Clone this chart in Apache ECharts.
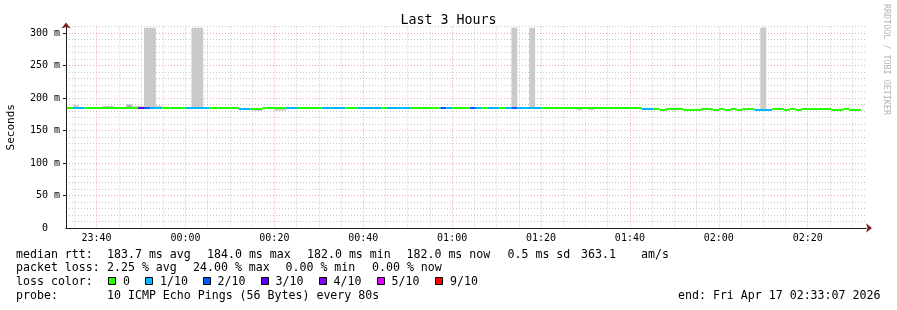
<!DOCTYPE html>
<html><head><meta charset="utf-8">
<script src="https://cdn.jsdelivr.net/npm/echarts@6/dist/echarts.min.js"></script>
<style>html,body{margin:0;padding:0;background:#fff}#c{width:897px;height:310px}</style>
</head><body><div id="c"></div>
<script>
// time axis: seconds since 23:00:00 of the first day
const T_START = 1987;    // 23:33:07
const T_END = 12787;     // 02:33:07
const STEP_BASE = 2000;  // first 80 s step boundary
const STEP = 80;

const xMajorTicks = [2400, 3600, 4800, 6000, 7200, 8400, 9600, 10800, 12000];
const xMajorLabels = ['23:40', '00:00', '00:20', '00:40', '01:00', '01:20', '01:40', '02:00', '02:20'];
const yMajorTicks = [0, 50, 100, 150, 200, 250, 300];
const yMajorLabels = ['0  ', '50 m', '100 m', '150 m', '200 m', '250 m', '300 m'];

// median rtt segments (step indices), loss (pings of 10), median (ms)
const segFrom   = [0, 1, 3, 12, 13, 14, 16, 20, 24, 29, 31, 33, 37, 39, 43, 47, 49, 53, 54, 58, 63, 64, 65, 68, 69, 70, 71, 73, 74, 75, 76, 80, 97, 99, 100, 101, 104, 107, 109, 110, 111, 112, 113, 114, 116, 119, 121, 122, 123, 124, 129, 131, 132];
const segTo     = [1, 3, 12, 13, 14, 16, 20, 24, 29, 31, 33, 37, 39, 43, 47, 49, 53, 54, 58, 63, 64, 65, 68, 69, 70, 71, 73, 74, 75, 76, 80, 97, 99, 100, 101, 104, 107, 109, 110, 111, 112, 113, 114, 116, 119, 121, 122, 123, 124, 129, 131, 132, 134];
const segLoss   = [0, 1, 0, 3, 2, 1, 0, 1, 0, 1, 0, 0, 1, 0, 1, 0, 1, 0, 1, 0, 2, 1, 0, 2, 1, 0, 1, 0, 1, 2, 1, 0, 1, 0, 0, 0, 0, 0, 0, 0, 0, 0, 0, 0, 1, 0, 0, 0, 0, 0, 0, 0, 0];
const segMedian = [184, 184, 184, 184, 184, 184, 184, 184, 184, 182.5, 183, 184, 184, 184, 184, 184, 184, 184, 184, 184, 184, 184, 184, 184, 184, 184, 184, 184, 184, 184, 184, 184, 183.5, 183.5, 182, 183.5, 182, 183.5, 182, 183.5, 182, 183.5, 182, 183, 182, 183, 182, 183, 182, 183, 182, 183, 182];

// smoke (ping spread) blocks
const smokeFrom  = [1, 6, 10, 11, 13, 15, 16, 21, 31, 35, 75, 78, 86, 88, 98, 102, 107, 112, 117];
const smokeTo    = [2, 8, 11, 13, 15, 16, 17, 23, 33, 37, 76, 79, 87, 89, 99, 103, 108, 113, 118];
const smokeLo    = [184, 184, 184, 184, 183, 184, 184, 183, 180.5, 180.5, 183, 183, 181, 181, 181, 181, 181, 181, 182];
const smokeHi    = [189, 188, 190, 187.5, 308, 188.5, 186.5, 308, 183, 183, 308, 308, 183, 183, 183, 183, 183, 183, 308];
const smokeShade = [0, 0, 1, 0, 0, 0, 1, 0, 0, 0, 0, 0, 0, 0, 0, 0, 0, 0, 0];

const lossColors = {0: '#26ff00', 1: '#00b8ff', 2: '#0059ff', 3: '#5e00ff', 4: '#7e00ff', 5: '#dd00ff', 9: '#ff0000'};
const lossLegendKeys = [0, 1, 2, 3, 4, 5, 9];
const lossLegendText = ['0', '1/10', '2/10', '3/10', '4/10', '5/10', '9/10'];
const smokeColors = ['#cacaca', '#b2b2b2', '#9a9a9a'];

const MONO = '"DejaVu Sans Mono", "Liberation Mono", monospace';

// minor grid positions
const xMinorTicks = [];
for (let t = 2100; t < T_END; t += 300) if (xMajorTicks.indexOf(t) < 0) xMinorTicks.push(t);
const yMinorTicks = [];
for (let v = 10; v <= 310; v += 10) if (v % 50 !== 0) yMinorTicks.push(v);

const smokeData = smokeFrom.map((f, i) => [STEP_BASE + f * STEP, STEP_BASE + smokeTo[i] * STEP, smokeLo[i], smokeHi[i], smokeShade[i]]);
const medData = segFrom.map((f, i) => [STEP_BASE + f * STEP, STEP_BASE + segTo[i] * STEP, segMedian[i], segLoss[i]]);

const chart = echarts.init(document.getElementById('c'), null, {renderer: 'canvas'});

const legendLines = [
  [254.5, [[16, 'median rtt:'], [107, '183.7 ms avg'], [207, '184.0 ms max'], [307, '182.0 ms min'], [406.5, '182.0 ms now'], [507.5, '0.5 ms sd'], [581, '363.1'], [641, 'am/s']]],
  [268.2, [[16, 'packet loss:'], [107, '2.25 % avg'], [193, '24.00 % max'], [285.5, '0.00 % min'], [372, '0.00 % now']]],
  [282, [[16, 'loss color:']]],
  [295.8, [[16, 'probe:'], [107, '10 ICMP Echo Pings (56 Bytes) every 80s'], [678, 'end: Fri Apr 17 02:33:07 2026']]]
];
const graphics = [];
legendLines.forEach(([y, items]) => items.forEach(([x, t]) => graphics.push({
  type: 'text', x: x, y: y, silent: true,
  style: {text: t, font: '11.6px ' + MONO, fill: '#000', verticalAlign: 'middle', align: 'left'}
})));
const boxX = [108.5, 145.5, 203.5, 261.5, 319.5, 377.5, 435.5];
const boxTextX = [123, 160, 217.5, 275.5, 333.5, 391.5, 450];
lossLegendKeys.forEach((k, i) => {
  graphics.push({type: 'rect', silent: true, shape: {x: boxX[i], y: 277.5, width: 7, height: 7},
    style: {fill: lossColors[k], stroke: '#000', lineWidth: 1}});
  graphics.push({type: 'text', x: boxTextX[i], y: 282, silent: true,
    style: {text: lossLegendText[i], font: '11.6px ' + MONO, fill: '#000', verticalAlign: 'middle'}});
});
graphics.push({type: 'text', x: 886, y: 4, rotation: -Math.PI / 2, silent: true,
  style: {text: 'RRDTOOL / TOBI OETIKER', font: '8.4px ' + MONO, fill: '#b4b4b4', verticalAlign: 'middle', align: 'left'}});

const gridGray = {color: '#c8c8c8', width: 1, type: [1, 2]};
const gridRed = {color: '#eda4a4', width: 1, type: [1, 2]};

chart.setOption({
  animation: false,
  backgroundColor: '#ffffff',
  title: {text: 'Last 3 Hours', left: 'center', top: 9,
    textStyle: {fontFamily: MONO, fontSize: 13.3, fontWeight: 'normal', color: '#000'}},
  grid: {left: 66, right: 31, top: 26.5, bottom: 82, containLabel: false, outerBoundsMode: 'none'},
  xAxis: [
    {type: 'value', min: T_START, max: T_END, position: 'bottom',
      axisLine: {show: true, onZero: false, symbol: ['none', 'arrow'], symbolSize: [7, 6], symbolOffset: [0, 6], lineStyle: {color: '#801f1f', width: 1}},
      axisTick: {show: false, customValues: xMinorTicks},
      axisLabel: {show: false},
      splitLine: {show: true, lineStyle: gridGray}},
    {type: 'value', min: T_START, max: T_END, position: 'bottom',
      axisLine: {show: true, onZero: false, lineStyle: {color: '#1f1f1f', width: 1}},
      axisTick: {show: false, customValues: xMajorTicks},
      axisLabel: {customValues: xMajorTicks, margin: 5, fontFamily: MONO, fontSize: 10, color: '#000',
        formatter: v => xMajorLabels[xMajorTicks.indexOf(v)] || ''},
      splitLine: {show: true, lineStyle: gridRed}}
  ],
  yAxis: [
    {type: 'value', min: 0, max: 310, position: 'left',
      axisLine: {show: true, onZero: false, symbol: ['none', 'arrow'], symbolSize: [7, 6], symbolOffset: [0, 4], lineStyle: {color: '#801f1f', width: 1}},
      axisTick: {show: false, customValues: yMinorTicks},
      axisLabel: {show: false},
      splitLine: {show: true, lineStyle: gridGray}},
    {type: 'value', min: 0, max: 310, position: 'left',
      name: 'Seconds', nameLocation: 'middle', nameGap: 49, nameRotate: 90,
      nameTextStyle: {fontFamily: MONO, fontSize: 11, color: '#000'},
      axisLine: {show: true, onZero: false, lineStyle: {color: '#1f1f1f', width: 1}},
      axisTick: {show: true, length: 3, customValues: yMajorTicks.slice(1), lineStyle: {color: '#1f1f1f'}},
      axisLabel: {customValues: yMajorTicks, margin: 6, fontFamily: MONO, fontSize: 10, color: '#000',
        formatter: v => yMajorLabels[yMajorTicks.indexOf(v)] || ''},
      splitLine: {show: true, lineStyle: gridRed}}
  ],
  series: [
    {type: 'custom', name: 'smoke', xAxisIndex: 1, yAxisIndex: 1, clip: true, silent: true,
      encode: {x: [0, 1], y: [2, 3]}, data: smokeData,
      renderItem: (params, api) => {
        const p0 = api.coord([api.value(0), api.value(3)]);
        const p1 = api.coord([api.value(1), api.value(2)]);
        return {type: 'rect', shape: {x: p0[0], y: p0[1], width: p1[0] - p0[0], height: p1[1] - p0[1]},
          style: {fill: smokeColors[api.value(4)]}};
      }},
    {type: 'custom', name: 'median', xAxisIndex: 1, yAxisIndex: 1, clip: true, silent: true,
      encode: {x: [0, 1], y: 2}, data: medData,
      renderItem: (params, api) => {
        const p0 = api.coord([api.value(0), api.value(2)]);
        const p1 = api.coord([api.value(1), api.value(2)]);
        const y = Math.round(p0[1]) - 1;
        return {type: 'rect', shape: {x: p0[0], y: y, width: p1[0] - p0[0], height: 2},
          style: {fill: lossColors[api.value(3)]}};
      }}
  ],
  graphic: graphics
});
</script></body></html>
